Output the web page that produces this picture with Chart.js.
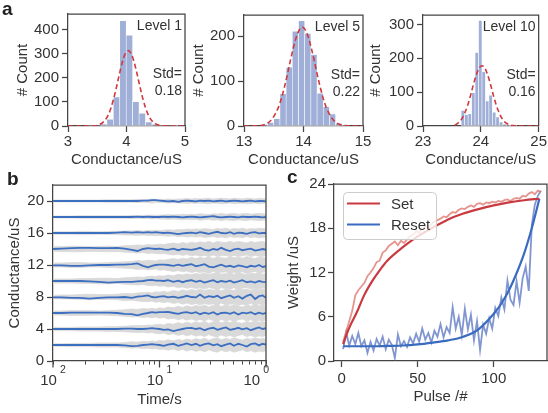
<!DOCTYPE html>
<html>
<head>
<meta charset="utf-8">
<title>Conductance levels, retention and weight update</title>
<script src="https://cdn.jsdelivr.net/npm/chart.js@4.4.1/dist/chart.umd.min.js"></script>
<style>
  html, body { margin: 0; padding: 0; background: #fff; }
  #fig { position: relative; width: 548px; height: 413px; overflow: hidden; }
  #fig canvas { position: absolute; }
  .tag { position: absolute; font: bold 19px "Liberation Sans", Arial, sans-serif; line-height: 19px; color: #222; }
</style>
</head>
<body>
<div id="fig">
  <canvas id="a1"></canvas>
  <canvas id="a2"></canvas>
  <canvas id="a3"></canvas>
  <canvas id="b"></canvas>
  <canvas id="c"></canvas>
  <div class="tag" style="left:2px;top:-1px">a</div>
  <div class="tag" style="left:7px;top:169px">b</div>
  <div class="tag" style="left:287px;top:167px">c</div>
</div>
<script>
/* ---------------- data: panel a (histograms) ---------------- */
const aLevels = ["Level 1", "Level 5", "Level 10"];
const aStd = ["0.18", "0.22", "0.16"];

const a1Bins = [3.39, 3.50, 3.61, 3.72, 3.83, 3.94, 4.05, 4.16, 4.27, 4.38, 4.49, 4.60, 4.71, 4.82];
const a1Counts = [1, 2, 8, 28, 121, 437, 377, 101, 53, 17, 7, 3, 2, 1];
const a1FitX = [3.0, 3.43, 3.53, 3.63, 3.68, 3.73, 3.78, 3.83, 3.88, 3.93, 3.98, 4.03, 4.08, 4.13, 4.18, 4.23, 4.28, 4.33, 4.38, 4.43, 4.53, 4.63, 5.0];
const a1FitY = [0, 1, 5, 23, 42, 72, 113, 163, 217, 266, 300, 313, 300, 266, 217, 163, 113, 72, 42, 23, 5, 1, 0];

const a2Bins = [13.344, 13.448, 13.552, 13.656, 13.760, 13.864, 13.968, 14.072, 14.176, 14.280, 14.384, 14.488, 14.592, 14.696];
const a2Counts = [3, 8, 16, 72, 131, 211, 234, 206, 159, 73, 43, 27, 6, 2];
const a2FitX = [13.0, 13.18, 13.38, 13.48, 13.58, 13.63, 13.68, 13.73, 13.78, 13.83, 13.88, 13.93, 13.98, 14.03, 14.08, 14.13, 14.18, 14.23, 14.28, 14.33, 14.38, 14.48, 14.58, 14.78, 15.0];
const a2FitY = [0, 0.3, 5, 17, 42, 62, 87, 115, 146, 174, 198, 214, 220, 214, 198, 174, 146, 115, 87, 62, 42, 17, 5, 0.3, 0];

const a3Bins = [23.69, 23.75, 23.81, 23.87, 23.93, 23.99, 24.05, 24.11, 24.17, 24.23, 24.29, 24.35, 24.41, 24.47, 24.53, 24.59];
const a3Counts = [46, 34, 36, 98, 217, 312, 160, 74, 91, 41, 27, 12, 5, 3, 2, 1];
const a3FitX = [23.55, 23.62, 23.67, 23.72, 23.77, 23.82, 23.87, 23.92, 23.97, 24.02, 24.07, 24.12, 24.17, 24.22, 24.27, 24.32, 24.37, 24.42, 24.52, 24.62, 24.8, 25.0];
const a3FitY = [2, 11, 21, 38, 60, 89, 121, 150, 171, 178, 171, 150, 121, 89, 60, 38, 21, 11, 2.3, 0.4, 0, 0];

/* ---------------- data: panel b (retention) ---------------- */
const bLevels = [2, 4, 6, 8, 10, 12, 14, 16, 18, 20];
const bTickExp = ["2", "1", "0"];
const bMajor = [0.01, 0.1, 1];
const bTime = [0.01, 0.012, 0.015, 0.018, 0.022, 0.027, 0.033, 0.04,
  0.047, 0.055, 0.062, 0.07, 0.078, 0.085, 0.092, 0.1,
  0.11, 0.12, 0.135, 0.15, 0.165, 0.18, 0.2, 0.22,
  0.24, 0.265, 0.29, 0.32, 0.35, 0.38, 0.42, 0.46,
  0.5, 0.55, 0.6, 0.66, 0.72, 0.79, 0.86, 0.93, 1.0];

// deviation of the mean trace from its level, one row per level
const bDev = [
  [0,0,0,0,0,0,0,0, -0.05,-0.15,-0.1,0,0.05,0.1,0.05,0, -0.1,0.05,0.15,-0.1,0.05,0.2,0,0.15, -0.1,0.1,0.2,-0.05,0.1,-0.15,0.05,0.2, -0.1,0.15,0,-0.2,0.1,0.2,-0.05,0.15,0.05],
  [0,0,0,0,0,0,0,0, 0.05,0.05,0,0,0.05,0.1,0.05,0, -0.1,-0.05,-0.25,-0.1,0,0.1,0.15,0, 0.1,-0.15,0.05,0.15,-0.1,0.05,0.2,-0.1, 0,0.15,-0.05,0.1,-0.15,0.05,0.2,0,0.1],
  [0,0,0.05,0.05,0.05,0.05,0.05,0, -0.1,-0.15,-0.3,-0.1,0,0.1,0.05,0.1, 0.1,0.15,0,-0.1,0.05,0.1,-0.05,0.1, -0.15,0.05,-0.1,0.1,-0.2,0,0.05,-0.1, 0.1,-0.2,0.05,-0.05,0.1,-0.15,0.05,-0.1,0],
  [-0.05,-0.05,-0.1,-0.1,-0.2,-0.1,-0.05,-0.05, 0,-0.1,0.05,0.1,0.2,0,-0.05,0.05, 0.1,-0.05,0.05,-0.1,0,0.15,0,-0.05, 0.3,-0.1,0.1,0,0.15,-0.15,0.05,0.2, -0.1,0.1,-0.2,0.15,0.3,-0.25,0.1,0.2,-0.1],
  [0,0,0,0,-0.05,-0.1,-0.2,-0.15, -0.1,-0.1,-0.05,0,0.1,0.15,0.05,0.05, 0,0.1,-0.1,0.05,-0.15,0,0.1,-0.1, 0.05,-0.2,-0.05,0.1,-0.15,0,-0.1,0.05, -0.2,-0.05,0.1,-0.15,-0.05,-0.2,0,-0.1,-0.15],
  [-0.05,-0.05,-0.1,-0.1,-0.05,0,0,0.05, 0.05,0.1,0.2,-0.1,-0.3,-0.1,0,0.05, 0.05,0,-0.1,0.05,-0.1,0,0.1,-0.15, -0.05,0.1,-0.2,-0.3,-0.1,0.05,-0.2,-0.1, -0.25,-0.05,-0.15,-0.3,-0.1,-0.2,0,-0.25,-0.15],
  [0,0.05,0.1,0.15,0.15,0.1,0.1,0.15, 0.05,-0.1,-0.25,0,0.1,0.05,0,0.05, -0.05,-0.1,0.05,-0.15,0,-0.05,-0.1,0, 0.15,-0.1,-0.2,0,-0.1,0.15,-0.1,-0.25, -0.05,0.05,-0.15,-0.05,0.05,-0.2,-0.1,0,-0.1],
  [0,0,0,0,0,0,0,0.05, 0.1,0.05,0.1,0.05,0.1,0.05,0.1,0.05, 0,0.05,-0.05,-0.15,-0.05,0,0.05,-0.05, 0.1,0,-0.1,0.05,0.15,0,-0.05,0.1, -0.1,0.05,0,-0.1,0.05,0.1,-0.05,0,0],
  [0,0,0,0,0,0,0,0, 0,0,0.05,0,0.05,0,0,0, 0.05,0,0.05,0,-0.05,0,0.05,0, -0.05,0,0.05,0.1,0,-0.05,0,0.05, 0,-0.05,0.05,0,0,0.05,0,-0.05,0],
  [0,0,0,0,0,0,0,0, 0,0,0,0.05,0.05,0.1,0.1,0.05, 0,-0.05,0,-0.1,0,0.05,0,-0.05, 0.05,0,0.05,-0.05,0,0.05,-0.05,0, 0.05,0,-0.05,0,0.05,-0.05,0,0,-0.05]
];

// half-width of the grey cloud of single traces, one row per level
const bBand = [
  [0.15,0.15,0.2,0.2,0.2,0.25,0.25,0.25, 0.3,0.4,0.35,0.45,0.4,0.5,0.45,0.55, 0.5,0.65,0.5,0.7,0.55,0.75,0.6,0.8, 0.65,0.85,0.6,0.8,0.9,0.65,0.85,0.7, 0.9,0.75,0.6,0.85,0.7,0.9,0.75,0.85,0.7],
  [0.2,0.2,0.2,0.25,0.25,0.25,0.3,0.3, 0.35,0.4,0.45,0.4,0.5,0.45,0.55,0.6, 0.5,0.7,0.6,0.8,0.65,0.85,0.7,0.9, 0.75,0.95,0.7,0.9,1.0,0.75,0.95,0.8, 1.0,0.8,0.7,0.95,0.8,1.0,0.85,0.95,0.8],
  [0.25,0.25,0.3,0.3,0.3,0.25,0.3,0.35, 0.4,0.5,0.45,0.55,0.5,0.6,0.5,0.65, 0.55,0.75,0.65,0.85,0.7,0.9,0.75,0.95, 0.8,1.0,0.75,0.95,1.05,0.8,1.0,0.85, 1.05,0.85,0.75,1.0,0.85,1.05,0.9,1.0,0.85],
  [0.2,0.25,0.25,0.3,0.35,0.3,0.3,0.35, 0.45,0.4,0.5,0.55,0.6,0.5,0.65,0.6, 0.7,0.6,0.8,0.7,0.9,0.75,0.95,0.8, 1.0,0.8,0.95,0.85,1.05,0.75,1.0,0.9, 0.8,1.05,0.9,1.0,0.8,1.05,0.85,1.0,0.9],
  [0.25,0.25,0.25,0.3,0.3,0.35,0.35,0.3, 0.4,0.45,0.5,0.45,0.55,0.6,0.55,0.65, 0.6,0.75,0.65,0.85,0.75,0.9,0.8,0.95, 0.85,1.0,0.8,0.95,1.05,0.85,0.95,1.0, 0.85,1.05,0.9,0.8,1.0,0.9,1.05,0.85,0.95],
  [0.25,0.25,0.3,0.3,0.25,0.25,0.3,0.35, 0.4,0.45,0.55,0.5,0.6,0.55,0.5,0.65, 0.6,0.7,0.8,0.7,0.85,0.75,0.95,0.8, 0.95,0.85,1.05,0.8,1.0,0.9,0.85,1.05, 0.9,1.0,0.85,1.05,0.9,0.8,1.0,0.9,0.85],
  [0.3,0.3,0.35,0.35,0.3,0.3,0.35,0.3, 0.4,0.45,0.5,0.45,0.55,0.5,0.55,0.6, 0.55,0.65,0.75,0.65,0.8,0.7,0.85,0.75, 0.9,0.8,0.95,0.75,0.95,0.85,0.8,0.95, 0.8,0.95,0.85,0.75,0.95,0.8,0.9,0.95,0.8],
  [0.15,0.15,0.15,0.2,0.2,0.15,0.2,0.2, 0.25,0.25,0.3,0.25,0.3,0.3,0.35,0.3, 0.35,0.4,0.35,0.45,0.4,0.5,0.45,0.5, 0.45,0.55,0.5,0.45,0.55,0.5,0.6,0.45, 0.55,0.5,0.6,0.45,0.55,0.5,0.6,0.55,0.5],
  [0.12,0.12,0.12,0.15,0.15,0.15,0.15,0.15, 0.15,0.2,0.15,0.2,0.2,0.25,0.2,0.25, 0.25,0.3,0.25,0.3,0.35,0.3,0.35,0.3, 0.4,0.35,0.3,0.4,0.35,0.45,0.35,0.4, 0.45,0.35,0.4,0.45,0.35,0.4,0.45,0.4,0.35],
  [0.12,0.12,0.12,0.12,0.12,0.12,0.15,0.15, 0.15,0.15,0.2,0.15,0.2,0.25,0.2,0.2, 0.2,0.25,0.2,0.25,0.25,0.3,0.25,0.3, 0.25,0.3,0.35,0.25,0.3,0.35,0.3,0.25, 0.35,0.3,0.25,0.35,0.3,0.25,0.35,0.3,0.25]
];

/* ---------------- data: panel c (weight update) ---------------- */
const cSeries = ["Set", "Reset"];
const cPulse = [1,3,5,7,9,11,13,15,17,19,21,23,25,27,29,31,33,35,37,39,41,43,45,47,49,51,53,55,57,59,61,63,65,
  67,69,71,73,75,77,79,81,83,85,87,89,91,93,95,97,99,101,103,105,107,109,111,113,115,117,119,121,123,125,127,129,131];
const setRaw = [2.6,4.0,5.4,6.8,8.9,9.6,10.1,10.6,11.5,12.0,12.6,13.4,13.6,14.7,15.0,15.6,15.9,16.2,15.7,16.3,
  16.0,16.5,16.9,17.1,17.6,17.4,17.9,18.3,18.1,18.6,18.9,19.1,19.3,19.6,19.5,19.9,20.2,20.1,20.5,20.7,
  20.6,20.9,21.1,20.9,21.3,21.4,21.2,21.5,21.4,21.6,21.5,21.7,21.6,21.8,21.9,21.7,22.0,22.1,22.0,22.4,
  22.3,22.7,22.9,22.6,23.1,22.9];
const resetRaw = [1.6,3.9,2.1,3.4,2.3,3.8,2.0,2.8,1.1,2.6, 1.4,3.0,2.1,3.3,1.6,2.9,2.2,0.4,3.6,2.0,
  2.7,1.9,3.2,2.4,3.7,2.6,4.4,2.9,3.8,2.5, 4.1,3.3,5.0,3.2,4.6,3.8,7.3,4.4,6.0,3.5,
  7.1,4.3,6.3,2.8,5.4,1.5,4.9,3.7,5.8,4.4, 7.2,6.1,8.6,7.0,10.9,8.3,7.6,10.8,7.9,11.2,
  12.8,9.5,18.4,21.2,22.4,23.1];
const setFitX = [1, 5, 10, 15, 20, 25, 30, 40, 50, 60, 70, 80, 90, 100, 110, 120, 130];
const setFit = [2.3, 4.5, 6.6, 9.0, 10.8, 12.3, 13.6, 15.4, 16.9, 18.1, 19.2, 20.0, 20.6, 21.1, 21.5, 21.8, 22.0];
const resetFitX = [1, 10, 20, 30, 40, 50, 60, 70, 80, 90, 100, 105, 110, 115, 120, 125, 130];
const resetFit = [2.0, 2.0, 2.0, 2.05, 2.1, 2.25, 2.5, 2.8, 3.3, 4.3, 6.4, 7.8, 9.6, 11.9, 14.6, 18.0, 22.0];

/* ---------------- look ---------------- */
const FONT = '"Liberation Sans", Arial, Helvetica, sans-serif';
const INK = "#333333";
const SPINE = "#444444";
const BAR = "#a0afd8";
const RED = "#d0393e";
const GRAY = "#d9d9d9";
const BLUE = "#3d6fc1";
const SET_FIT = "#c93a40";
const RESET_FIT = "#3a6bbf";
const SET_RAW = "rgba(221,112,104,0.75)";
const RESET_RAW = "rgba(76,105,190,0.7)";

Chart.defaults.font.family = FONT;
Chart.defaults.color = INK;

// plot-area boxes in page pixels (L,T,R,B) plus room for the axes
const LAYOUT = {
  a1: { L: 68, T: 10, R: 185, B: 126, yw: 56, xh: 45, pt: 8, pr: 12, xPad: 1 },
  a2: { L: 244, T: 11, R: 363, B: 126, yw: 56, xh: 45, pt: 8, pr: 12, xPad: 1 },
  a3: { L: 423, T: 11, R: 542, B: 126, yw: 58, xh: 45, pt: 8, pr: 6, xPad: 1 },
  b:  { L: 53, T: 183, R: 266, B: 361, yw: 49, xh: 50, pt: 10, pr: 16, xPad: 1 },
  c:  { L: 334, T: 183, R: 547, B: 361, yw: 51, xh: 47, pt: 10, pr: 1, xPad: 3 }
};

function place(id, box) {
  const cv = document.getElementById(id);
  cv.width = box.yw + (box.R - box.L) + box.pr;
  cv.height = box.pt + (box.B - box.T) + box.xh;
  cv.style.left = (box.L - box.yw) + "px";
  cv.style.top = (box.T - box.pt) + "px";
  return cv;
}

function xAxis(box, extra, titleText) {
  return Object.assign({
    offset: false,
    border: { display: true, color: SPINE, width: 1.25 },
    grid: { display: true, offset: false, drawOnChartArea: false, drawTicks: true, tickLength: 6, tickColor: SPINE, tickWidth: 1.25 },
    title: { display: true, text: titleText, color: INK, font: { size: 15 }, padding: { top: 0, bottom: 2 } },
    afterFit: s => { s.height = box.xh; }
  }, extra);
}

function yAxis(box, extra, titleText) {
  return Object.assign({
    border: { display: true, color: SPINE, width: 1.25 },
    grid: { display: true, drawOnChartArea: false, drawTicks: true, tickLength: 6, tickColor: SPINE, tickWidth: 1.25 },
    title: { display: true, text: titleText, color: INK, font: { size: 15 }, padding: { top: 2, bottom: 0 } },
    afterFit: s => { s.width = box.yw; }
  }, extra);
}

function baseOptions(box) {
  return {
    responsive: false,
    animation: false,
    layout: { autoPadding: false, padding: { top: box.pt, right: box.pr, left: 0, bottom: 0 } },
    plugins: { legend: { display: false }, tooltip: { enabled: false } }
  };
}

// top and right spines
const frame = {
  id: "frame",
  afterDraw(chart) {
    const { ctx, chartArea: a } = chart;
    ctx.save();
    ctx.strokeStyle = SPINE;
    ctx.lineWidth = 1.25;
    ctx.beginPath();
    ctx.moveTo(a.left, a.top);
    ctx.lineTo(a.right, a.top);
    ctx.lineTo(a.right, a.bottom);
    ctx.stroke();
    ctx.restore();
  }
};

const histNote = {
  id: "histNote",
  afterDraw(chart, args, o) {
    const { ctx, chartArea: a } = chart;
    ctx.save();
    ctx.fillStyle = INK;
    ctx.font = "14px " + FONT;
    ctx.textAlign = "right";
    ctx.textBaseline = "middle";
    ctx.fillText(o.level, a.right - 3, a.top + 12);
    ctx.fillText("Std=", a.right - 3, a.top + 60);
    ctx.fillText(o.std, a.right - 3, a.top + 77);
    ctx.restore();
  }
};

/* ---------------- panel a ---------------- */
function histogram(id, bins, counts, fitX, fitY, xMin, xMax, yMax, k) {
  const box = LAYOUT[id];
  const opts = baseOptions(box);
  opts.plugins.histNote = { level: aLevels[k], std: aStd[k] };
  opts.scales = {
    x: xAxis(box, {
      type: "linear", min: xMin, max: xMax,
      ticks: { stepSize: 1, padding: box.xPad, color: INK, font: { size: 15 }, maxRotation: 0 }
    }, "Conductance/uS"),
    y: yAxis(box, {
      type: "linear", min: 0, max: yMax,
      ticks: { stepSize: 100, includeBounds: false, padding: 3, color: INK, font: { size: 15 } }
    }, "# Count")
  };
  return new Chart(place(id, box), {
    type: "bar",
    data: {
      datasets: [
        {
          type: "line",
          data: fitX.map((x, i) => ({ x: x, y: fitY[i] })),
          borderColor: RED, borderWidth: 1.6, borderDash: [5, 3],
          pointRadius: 0, fill: false, cubicInterpolationMode: "monotone", order: 1
        },
        {
          type: "bar",
          data: bins.map((x, i) => ({ x: x, y: counts[i] })),
          backgroundColor: BAR, borderColor: "#ffffff", borderWidth: 0.6, borderSkipped: false,
          barPercentage: 1, categoryPercentage: 1, order: 2
        }
      ]
    },
    options: opts,
    plugins: [frame, histNote]
  });
}

histogram("a1", a1Bins, a1Counts, a1FitX, a1FitY, 3, 5, 465, 0);
histogram("a2", a2Bins, a2Counts, a2FitX, a2FitY, 13, 15, 247, 1);
histogram("a3", a3Bins, a3Counts, a3FitX, a3FitY, 23, 25, 328, 2);

/* ---------------- panel b ---------------- */
const logLabels = {
  id: "logLabels",
  afterDraw(chart) {
    const { ctx, chartArea: a } = chart;
    const sx = chart.scales.x;
    ctx.save();
    ctx.strokeStyle = SPINE;
    ctx.lineWidth = 1.25;
    ctx.fillStyle = INK;
    ctx.textBaseline = "middle";
    ctx.textAlign = "left";
    bMajor.forEach((v, i) => {
      const px = sx.getPixelForValue(v);
      ctx.beginPath();
      ctx.moveTo(px, a.bottom);
      ctx.lineTo(px, a.bottom + 6.5);
      ctx.stroke();
      ctx.font = "15px " + FONT;
      const w1 = ctx.measureText("10").width;
      ctx.font = "10.5px " + FONT;
      const w2 = ctx.measureText(bTickExp[i]).width;
      const w = w1 + 3 + w2;
      let x0 = px - w / 2;
      if (x0 + w > a.right + 3) x0 = a.right + 3 - w;
      ctx.font = "15px " + FONT;
      ctx.fillText("10", x0, a.bottom + 20);
      ctx.font = "10.5px " + FONT;
      ctx.fillText(bTickExp[i], x0 + w1 + 3, a.bottom + 9);
    });
    ctx.restore();
  }
};

(function () {
  const box = LAYOUT.b;
  const sets = [];
  bLevels.forEach((lvl, i) => {
    sets.push({
      data: bTime.map((t, j) => ({ x: t, y: lvl + bBand[i][j] })),
      fill: "+1", backgroundColor: GRAY, borderColor: GRAY, borderWidth: 0.8, pointRadius: 0, order: 2
    });
    sets.push({
      data: bTime.map((t, j) => ({ x: t, y: lvl - bBand[i][j] })),
      fill: false, borderColor: GRAY, borderWidth: 0.8, pointRadius: 0, order: 2
    });
  });
  bLevels.forEach((lvl, i) => {
    sets.push({
      data: bTime.map((t, j) => ({ x: t, y: lvl + bDev[i][j] })),
      fill: false, borderColor: BLUE, borderWidth: 1.8, pointRadius: 0, order: 1
    });
  });
  const opts = baseOptions(box);
  opts.scales = {
    x: xAxis(box, {
      type: "logarithmic", min: 0.01, max: 1,
      grid: { display: true, offset: false, drawOnChartArea: false, drawTicks: true, tickLength: 3.5, tickColor: SPINE, tickWidth: 1 },
      ticks: { callback: () => "", autoSkip: false, maxRotation: 0, padding: 0 }
    }, "Time/s"),
    y: yAxis(box, {
      type: "linear", min: 0, max: 22,
      ticks: { stepSize: 4, includeBounds: false, padding: 3, color: INK, font: { size: 15 } }
    }, "Conductance/uS")
  };
  new Chart(place("b", box), {
    type: "line",
    data: { datasets: sets },
    options: opts,
    plugins: [frame, logLabels]
  });
})();

/* ---------------- panel c ---------------- */
const legendBox = {
  id: "legendBox",
  afterDatasetsDraw(chart) {
    const { ctx, chartArea: a } = chart;
    const x = a.left + 9, y = a.top + 8, w = 93, h = 47;
    const colors = [SET_FIT, RESET_FIT];
    ctx.save();
    ctx.fillStyle = "rgba(255,255,255,0.8)";
    ctx.strokeStyle = "#cccccc";
    ctx.lineWidth = 1;
    ctx.beginPath();
    ctx.roundRect(x + 0.5, y + 0.5, w, h, 4);
    ctx.fill();
    ctx.stroke();
    cSeries.forEach((label, i) => {
      const ly = y + 11.5 + i * 21;
      ctx.strokeStyle = colors[i];
      ctx.lineWidth = 2.2;
      ctx.beginPath();
      ctx.moveTo(x + 4, ly);
      ctx.lineTo(x + 37, ly);
      ctx.stroke();
      ctx.fillStyle = INK;
      ctx.font = "15px " + FONT;
      ctx.textBaseline = "middle";
      ctx.fillText(label, x + 48, ly + 1);
    });
    ctx.restore();
  }
};

(function () {
  const box = LAYOUT.c;
  const opts = baseOptions(box);
  opts.scales = {
    x: xAxis(box, {
      type: "linear", min: -5, max: 135,
      ticks: { stepSize: 50, includeBounds: false, padding: box.xPad, color: INK, font: { size: 15 }, maxRotation: 0 }
    }, "Pulse /#"),
    y: yAxis(box, {
      type: "linear", min: 0, max: 24,
      ticks: { stepSize: 6, includeBounds: false, padding: 2, color: INK, font: { size: 15 } }
    }, "Weight /uS")
  };
  new Chart(place("c", box), {
    type: "line",
    data: {
      datasets: [
        { data: setFitX.map((x, i) => ({ x: x, y: setFit[i] })), borderColor: SET_FIT, borderWidth: 2.2, pointRadius: 0, fill: false, cubicInterpolationMode: "monotone", order: 1 },
        { data: resetFitX.map((x, i) => ({ x: x, y: resetFit[i] })), borderColor: RESET_FIT, borderWidth: 2.2, pointRadius: 0, fill: false, cubicInterpolationMode: "monotone", order: 1 },
        { data: cPulse.map((x, i) => ({ x: x, y: setRaw[i] })), borderColor: SET_RAW, borderWidth: 1.8, pointRadius: 0, fill: false, order: 2 },
        { data: cPulse.map((x, i) => ({ x: x, y: resetRaw[i] })), borderColor: RESET_RAW, borderWidth: 1.8, pointRadius: 0, fill: false, order: 2 }
      ]
    },
    options: opts,
    plugins: [frame, legendBox]
  });
})();
</script>
</body>
</html>
